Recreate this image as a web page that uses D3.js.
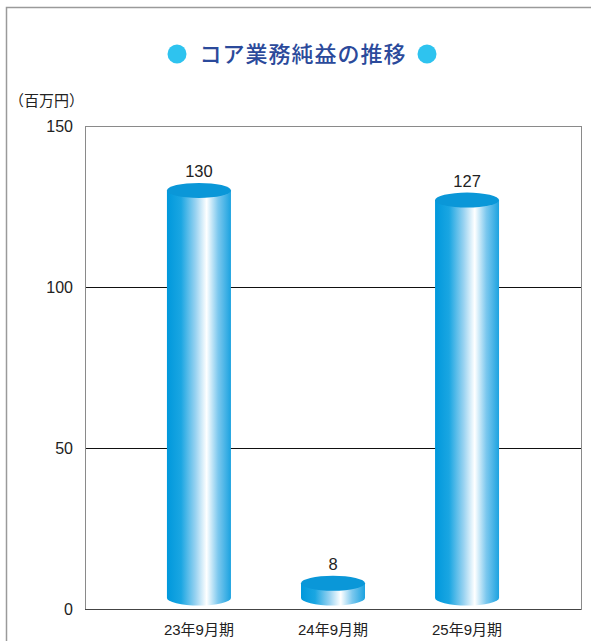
<!DOCTYPE html>
<html>
<head>
<meta charset="utf-8">
<script src="https://cdn.jsdelivr.net/npm/d3@7"></script>
<style>
  body { margin: 0; background: #fff; }
  svg { display: block; font-family: "Liberation Sans", Arial, sans-serif; }
</style>
</head>
<body>
<div id="chart"></div>
<script>
// data
var categories = ["23年9月期", "24年9月期", "25年9月期"];
var values = [130, 8, 127];
var yTicks = [0, 50, 100, 150];

var W = 591, H = 641;
var plotLeft = 85, plotRight = 581, plotTop = 126, plotBottom = 609;

var svg = d3.select("#chart").append("svg")
    .attr("width", W).attr("height", H);

// outer frame (continues past the page edge)
svg.append("rect")
    .attr("x", 6.5).attr("y", 7.5)
    .attr("width", 700).attr("height", 700)
    .attr("fill", "none").attr("stroke", "#9a9a9a").attr("stroke-width", 1.5);

// title
var title = svg.append("g");
title.append("text")
    .attr("x", 303).attr("y", 62)
    .attr("text-anchor", "middle")
    .attr("font-family", "'Noto Sans CJK JP', sans-serif")
    .attr("font-size", 22).attr("font-weight", 500)
    .attr("letter-spacing", 1)
    .attr("fill", "#2b4a9b")
    .text("コア業務純益の推移");
title.selectAll("circle")
    .data([177, 427])
    .join("circle")
    .attr("cx", d => d).attr("cy", 54).attr("r", 9.5)
    .attr("fill", "#2ec3ef");

svg.append("text")
    .attr("x", 9).attr("y", 106)
    .attr("font-family", "'Noto Sans CJK JP', sans-serif")
    .attr("font-size", 15).attr("fill", "#222")
    .text("（百万円）");

var y = d3.scaleLinear().domain([0, 150]).range([plotBottom, plotTop]);
var x = d3.scalePoint().domain(categories).range([plotLeft, plotRight]).padding(0.85);

// grid + frame
svg.append("g").selectAll("line")
    .data(yTicks.filter(d => d > 0 && d < 150))
    .join("line")
    .attr("x1", plotLeft).attr("x2", plotRight)
    .attr("y1", d => y(d) + 0.5).attr("y2", d => y(d) + 0.5)
    .attr("stroke", "#111").attr("stroke-width", 1);

svg.append("rect")
    .attr("x", plotLeft + 0.5).attr("y", y(150) + 0.5)
    .attr("width", plotRight - plotLeft).attr("height", plotBottom - y(150))
    .attr("fill", "none").attr("stroke", "#8a8a8a").attr("stroke-width", 1);
svg.append("line")
    .attr("x1", plotLeft).attr("x2", plotRight)
    .attr("y1", plotBottom + 0.5).attr("y2", plotBottom + 0.5)
    .attr("stroke", "#444");

// y axis labels
var yAxis = d3.axisLeft(y).tickValues(yTicks).tickSize(0).tickPadding(12);
var ga = svg.append("g").attr("transform", `translate(${plotLeft},0)`).call(yAxis);
ga.select(".domain").remove();
ga.selectAll("text")
    .attr("font-size", 16).attr("fill", "#222")
    .attr("font-family", "'Liberation Sans', Arial, sans-serif");

// cylinder gradient
var defs = svg.append("defs");
var grad = defs.append("linearGradient").attr("id", "cyl")
    .attr("x1", 0).attr("x2", 1).attr("y1", 0).attr("y2", 0);
grad.append("stop").attr("offset", "0%").attr("stop-color", "#0098dc");
grad.append("stop").attr("offset", "22%").attr("stop-color", "#1aa6e2");
grad.append("stop").attr("offset", "45%").attr("stop-color", "#9ad3f1");
grad.append("stop").attr("offset", "62%").attr("stop-color", "#ffffff");
grad.append("stop").attr("offset", "80%").attr("stop-color", "#7cc8ee");
grad.append("stop").attr("offset", "100%").attr("stop-color", "#1ba2e0");

var rx = 32, ry = 7.5, base = plotBottom - 11;

var bars = svg.append("g").selectAll("g")
    .data(categories.map((c, i) => ({ c: c, v: values[i] })))
    .join("g");

bars.append("path")
    .attr("fill", "url(#cyl)")
    .attr("d", d => {
        var cx = x(d.c), ty = y(d.v);
        return `M${cx - rx},${ty} L${cx - rx},${base} A${rx},${ry} 0 0 0 ${cx + rx},${base} L${cx + rx},${ty} Z`;
    });

bars.append("ellipse")
    .attr("cx", d => x(d.c)).attr("cy", d => y(d.v))
    .attr("rx", rx).attr("ry", ry)
    .attr("fill", "#0a97d8");

bars.append("text")
    .attr("x", d => x(d.c)).attr("y", d => y(d.v) - 13)
    .attr("text-anchor", "middle")
    .attr("font-size", 16.5).attr("fill", "#222")
    .text(d => d.v);

// category labels
svg.append("g").selectAll("text")
    .data(categories)
    .join("text")
    .attr("x", d => x(d)).attr("y", 635)
    .attr("text-anchor", "middle")
    .attr("font-family", "'Liberation Sans', 'Noto Sans CJK JP', sans-serif")
    .attr("font-size", 15).attr("fill", "#222")
    .text(d => d);
</script>
</body>
</html>
